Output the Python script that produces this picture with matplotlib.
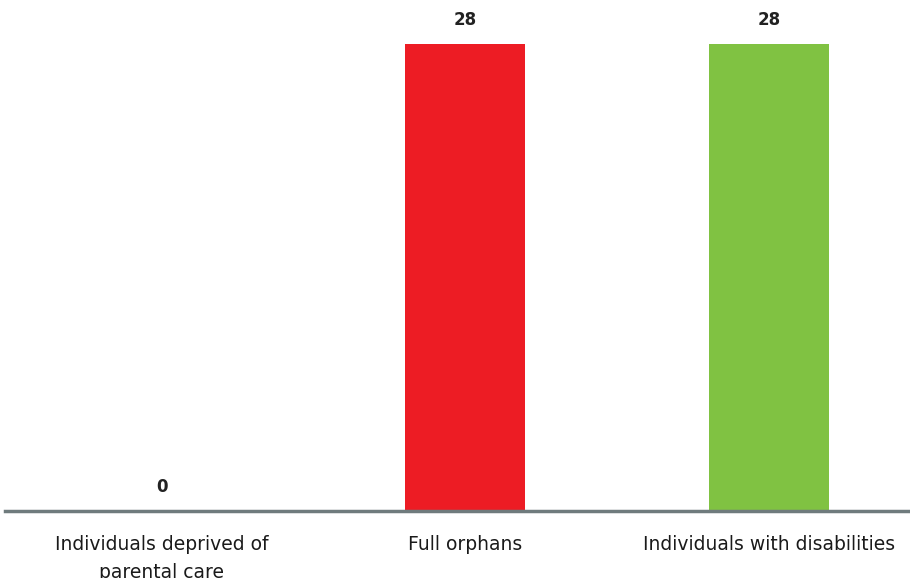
import matplotlib.pyplot as plt

# data
categories = ['Individuals deprived of\nparental care', 'Full orphans', 'Individuals with disabilities']
values = [0, 28, 28]
colors = ['#ed1c24', '#ed1c24', '#80c242']

fig = plt.figure(figsize=(9.1, 5.78), dpi=100)
ax = fig.add_axes([5 / 910, 67 / 578, 905 / 910, 500 / 578])

x = range(len(categories))
bars = ax.bar(x, values, width=0.395, color=colors)

# value labels
for xi, v in zip(x, values):
    ax.text(xi, v + 0.9, str(v), ha='center', va='bottom',
            fontsize=12, fontweight='bold', color='#222222')

ax.set_xlim(-0.517, 2.465)
ax.set_ylim(0, 30)

for s in ['top', 'right', 'left']:
    ax.spines[s].set_visible(False)
ax.spines['bottom'].set_color('#6f7b7d')
ax.spines['bottom'].set_linewidth(2.5)

ax.set_yticks([])
ax.set_xticks(list(x))
ax.set_xticklabels(categories, fontsize=13.5, color='#1a1a1a', linespacing=1.6)
ax.tick_params(axis='x', length=0, pad=17)

fig.savefig('out.png', dpi=100)
